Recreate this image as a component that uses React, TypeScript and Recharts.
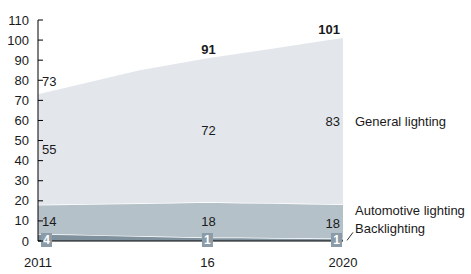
import React from 'react';
import { AreaChart, Area, XAxis, YAxis, ReferenceDot } from 'recharts';

const years = [2011, 2012, 2013, 2014, 2015, 2016, 2017, 2018, 2019, 2020];
const backlighting = [3.5, 3.2, 2.8, 2.5, 2.1, 1.8, 1.7, 1.5, 1.4, 1.3];
const automotive = [14.5, 15.1, 15.8, 16.3, 17.0, 17.6, 17.4, 17.4, 17.2, 17.0];
const general = [55.0, 58.7, 62.4, 66.2, 68.9, 71.6, 74.4, 77.1, 79.9, 82.7];

const labelYears = [2011, 2016, 2020];
const totalLabels = [73, 91, 101];
const generalLabels = [55, 72, 83];
const automotiveLabels = [14, 18, 18];
const backlightingLabels = [4, 1, 1];

const seriesNames = ['General lighting', 'Automotive lighting', 'Backlighting'];
const xTicks = [2011, 2016, 2020];
const xTickLabels: Record<number, string> = { 2011: '2011', 2016: '16', 2020: '2020' };
const yTicks = [0, 10, 20, 30, 40, 50, 60, 70, 80, 90, 100, 110];

const colors = {
  general: '#e3e7ec',
  automotive: '#b5c1c9',
  backlighting: '#7f919d',
  box: '#8b9ca8',
  text: '#1a1a1a',
};

const FONT = '"Liberation Sans", Arial, sans-serif';

const data = years.map((year, i) => ({
  year,
  backlighting: backlighting[i],
  automotive: automotive[i],
  general: general[i],
}));

const idx = (y: number) => years.indexOf(y);

const YTick = (props: any) => {
  const { x, y, payload } = props;
  return (
    <g>
      <line x1={x} x2={x + 5} y1={y} y2={y} stroke="#000" strokeWidth={1} />
      <text x={x - 9} y={y} textAnchor="end" dominantBaseline="central" fontSize={13} fontFamily={FONT} fill={colors.text}>
        {payload.value}
      </text>
    </g>
  );
};

const anchorFor = (k: number): { anchor: 'start' | 'middle' | 'end'; dx: number } =>
  k === 0 ? { anchor: 'start', dx: 4 } : k === 1 ? { anchor: 'middle', dx: 1 } : { anchor: 'end', dx: -3 };

const textShape = (label: string | number, dx: number, dy: number, anchor: 'start' | 'middle' | 'end', bold = false) =>
  (p: any) => (
    <text
      x={p.cx + dx}
      y={p.cy + dy}
      textAnchor={anchor}
      dominantBaseline="central"
      fontSize={13}
      fontWeight={bold ? 'bold' : 'normal'}
      fontFamily={FONT}
      fill={colors.text}
    >
      {label}
    </text>
  );

const boxShape = (label: string | number, dx: number) => (p: any) => (
  <g>
    <rect x={p.cx + dx - 5.5} y={p.cy - 8} width={11} height={14} fill={colors.box} />
    <text
      x={p.cx + dx}
      y={p.cy - 1}
      textAnchor="middle"
      dominantBaseline="central"
      fontSize={12}
      fontWeight="bold"
      fontFamily={FONT}
      fill="#fff"
    >
      {label}
    </text>
  </g>
);

const backLabelShape = (label: string) => (p: any) => (
  <g>
    <line x1={p.cx + 4} y1={p.cy + 2} x2={p.cx + 10} y2={p.cy - 6} stroke="#333" strokeWidth={1} />
    <text x={p.cx + 12} y={p.cy - 10} textAnchor="start" dominantBaseline="central" fontSize={13} fontFamily={FONT} fill={colors.text}>
      {label}
    </text>
  </g>
);

export default function App() {
  const last = years.length - 1;
  return (
    <div style={{ position: 'absolute', left: 0, top: 0, width: 471, height: 274, background: '#fff' }}>
      <AreaChart
        width={471}
        height={274}
        data={data}
        margin={{ top: 20, right: 128, bottom: 0, left: 0 }}
        style={{ fontFamily: FONT }}
      >
        <XAxis
          dataKey="year"
          type="number"
          domain={[2011, 2020]}
          ticks={xTicks}
          tickFormatter={(v: number) => xTickLabels[v]}
          tickLine={false}
          tickSize={0}
          tickMargin={17}
          height={33}
          axisLine={{ stroke: '#000', strokeWidth: 1 }}
          tick={{ fill: colors.text, fontSize: 13, fontFamily: FONT }}
          interval={0}
        />
        <YAxis
          type="number"
          domain={[0, 110]}
          ticks={yTicks}
          width={38}
          tickLine={false}
          tickSize={0}
          tickMargin={0}
          axisLine={{ stroke: '#000', strokeWidth: 1 }}
          tick={<YTick />}
          interval={0}
        />
        <Area
          type="linear"
          dataKey="backlighting"
          stackId="a"
          fill={colors.backlighting}
          fillOpacity={1}
          stroke="#ffffff"
          strokeWidth={1.5}
          isAnimationActive={false}
        />
        <Area
          type="linear"
          dataKey="automotive"
          stackId="a"
          fill={colors.automotive}
          fillOpacity={1}
          stroke="#ffffff"
          strokeWidth={1.5}
          isAnimationActive={false}
        />
        <Area
          type="linear"
          dataKey="general"
          stackId="a"
          fill={colors.general}
          fillOpacity={1}
          stroke="none"
          isAnimationActive={false}
        />

        {labelYears.map((yr, k) => {
          const i = idx(yr);
          const total = backlighting[i] + automotive[i] + general[i];
          const a = anchorFor(k);
          const dy = k === 0 ? -13 : -9;
          return (
            <ReferenceDot key={'t' + yr} x={yr} y={total} r={1} fill="none" stroke="none"
              shape={textShape(totalLabels[k], a.dx, dy, a.anchor, k > 0)} />
          );
        })}
        {labelYears.map((yr, k) => {
          const i = idx(yr);
          const mid = backlighting[i] + automotive[i] + general[i] / 2;
          const a = anchorFor(k);
          return (
            <ReferenceDot key={'g' + yr} x={yr} y={mid} r={1} fill="none" stroke="none"
              shape={textShape(generalLabels[k], a.dx, 0, a.anchor)} />
          );
        })}
        {labelYears.map((yr, k) => {
          const i = idx(yr);
          const mid = backlighting[i] + automotive[i] / 2;
          const a = anchorFor(k);
          return (
            <ReferenceDot key={'a' + yr} x={yr} y={mid} r={1} fill="none" stroke="none"
              shape={textShape(automotiveLabels[k], a.dx, 2, a.anchor)} />
          );
        })}
        {labelYears.map((yr, k) => (
          <ReferenceDot key={'b' + yr} x={yr} y={0} r={1} fill="none" stroke="none"
            shape={boxShape(backlightingLabels[k], k === 0 ? 8.5 : k === 1 ? 0 : -6.5)} />
        ))}

        <ReferenceDot x={years[last]} y={backlighting[last] + automotive[last] + general[last] / 2} r={1} fill="none" stroke="none"
          shape={textShape(seriesNames[0], 12, 0, 'start')} />
        <ReferenceDot x={years[last]} y={backlighting[last] + automotive[last]} r={1} fill="none" stroke="none"
          shape={textShape(seriesNames[1], 12, 6, 'start')} />
        <ReferenceDot x={years[last]} y={backlighting[last]} r={1} fill="none" stroke="none"
          shape={backLabelShape(seriesNames[2])} />
      </AreaChart>
    </div>
  );
}
